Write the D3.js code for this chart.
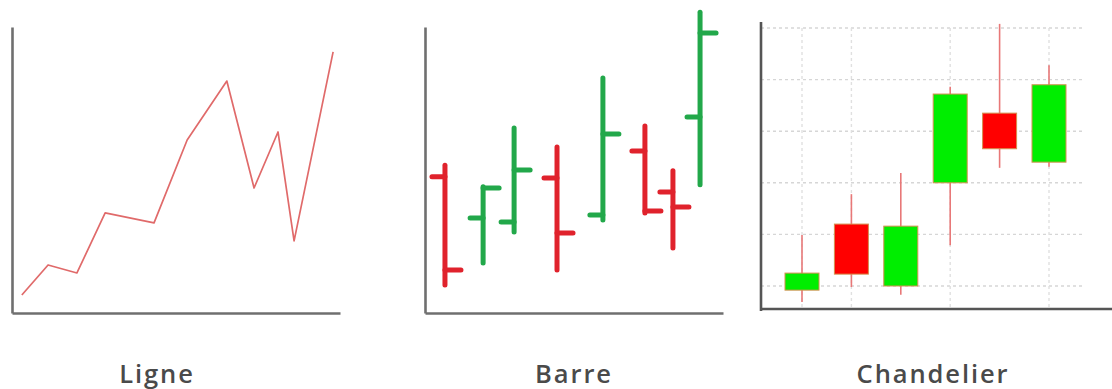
<!DOCTYPE html>
<html>
<head>
<meta charset="utf-8">
<script src="https://cdn.jsdelivr.net/npm/d3@7"></script>
<style>
  html, body { margin: 0; padding: 0; background: #ffffff; }
  svg { display: block; }
</style>
</head>
<body>
<svg id="chart" width="1112" height="389"></svg>
<script>
// ---------- DATA ----------
const panelTitles = ["Ligne", "Barre", "Chandelier"];

// Line chart: time position (0-100) and value (0-100)
const lineTime  = [3.0, 11.0, 19.8, 28.4, 43.3, 53.4, 65.5, 73.8, 81.1, 86.0, 97.9];
const lineValue = [6.3, 16.8, 14.0, 35.0, 31.5, 60.5, 81.1, 43.7, 63.3, 25.2, 91.3];

// OHLC bar chart
const barTime  = [6.7, 19.5, 29.9, 44.3, 59.7, 73.8, 83.2, 92.3];
const barOpen  = [47.6, 33.2, 31.8, 47.2, 34.3, 56.6, 42.3, 68.5];
const barHigh  = [51.7, 44.1, 64.7, 58.0, 82.2, 65.4, 49.7, 105.2];
const barLow   = [9.8, 17.5, 28.3, 15.0, 32.5, 35.0, 22.7, 44.8];
const barClose = [15.0, 43.7, 50.0, 28.0, 62.6, 35.7, 37.1, 97.9];

// Candlestick chart
const candleIndex = [0, 1, 2, 3, 4, 5];
const candleOpen  = [9.2, 22.0, 10.0, 30.0, 43.5, 34.0];
const candleHigh  = [19.9, 27.8, 31.9, 48.6, 60.8, 52.8];
const candleLow   = [6.9, 9.8, 8.3, 17.9, 32.9, 33.1];
const candleClose = [12.5, 12.3, 21.6, 47.2, 36.6, 49.0];
const candleGridY = [10, 20, 30, 40, 50, 60];
const candleGridX = [0, 1, 3, 5];

// ---------- DRAW ----------
const svg = d3.select("#chart");

// ===== Panel 1 : Ligne =====
{
  const x = d3.scaleLinear().domain([0, 100]).range([12, 340]);
  const y = d3.scaleLinear().domain([0, 100]).range([313, 27]);
  const g = svg.append("g");
  const pts = lineTime.map((t, i) => [t, lineValue[i]]);
  g.append("path")
    .datum(pts)
    .attr("fill", "none")
    .attr("stroke", "#e06a6a")
    .attr("stroke-width", 1.7)
    .attr("stroke-linejoin", "round")
    .attr("d", d3.line().x(d => x(d[0])).y(d => y(d[1])));

  const xAxis = d3.axisBottom(x).tickValues([]).tickSizeOuter(0);
  const yAxis = d3.axisLeft(y).tickValues([]).tickSizeOuter(0);
  const ax = g.append("g").attr("transform", `translate(0,${y(0)})`).call(xAxis);
  const ay = g.append("g").attr("transform", `translate(${x(0)},0)`).call(yAxis);
  [ax, ay].forEach(a => a.select(".domain").attr("stroke", "#6f6f6f").attr("stroke-width", 2.6));
}

// ===== Panel 2 : Barre =====
{
  const x = d3.scaleLinear().domain([0, 100]).range([425, 723]);
  const y = d3.scaleLinear().domain([0, 100]).range([313, 27]);
  const g = svg.append("g");
  const bars = barTime.map((t, i) => ({ t, o: barOpen[i], h: barHigh[i], l: barLow[i], c: barClose[i] }));
  const tick = 13;
  const col = d => d.c >= d.o ? "#22a84a" : "#e0222c";
  const bg = g.selectAll("g.bar").data(bars).join("g").attr("class", "bar")
    .attr("stroke", col).attr("stroke-width", 5).attr("stroke-linecap", "round");
  bg.append("line")
    .attr("x1", d => x(d.t)).attr("x2", d => x(d.t))
    .attr("y1", d => y(d.h)).attr("y2", d => y(d.l));
  bg.append("line")
    .attr("x1", d => x(d.t) - tick).attr("x2", d => x(d.t))
    .attr("y1", d => y(d.o)).attr("y2", d => y(d.o));
  bg.append("line")
    .attr("x1", d => x(d.t)).attr("x2", d => x(d.t) + tick + 3)
    .attr("y1", d => y(d.c)).attr("y2", d => y(d.c));

  const xAxis = d3.axisBottom(x).tickValues([]).tickSizeOuter(0);
  const yAxis = d3.axisLeft(y).tickValues([]).tickSizeOuter(0);
  const ax = g.append("g").attr("transform", `translate(0,${y(0)})`).call(xAxis);
  const ay = g.append("g").attr("transform", `translate(${x(0)},0)`).call(yAxis);
  [ax, ay].forEach(a => a.select(".domain").attr("stroke", "#6f6f6f").attr("stroke-width", 2.6));
}

// ===== Panel 3 : Chandelier =====
{
  const x = d3.scaleLinear().domain([0, 5]).range([802, 1049]);
  const y = d3.scaleLinear().domain([10, 60]).range([286, 28]);
  const x0 = 761, x1 = 1083, yBase = 309, yTop = 22;
  const g = svg.append("g");

  // grid
  g.append("g").selectAll("line").data(candleGridY).join("line")
    .attr("x1", x0).attr("x2", x1)
    .attr("y1", d => y(d)).attr("y2", d => y(d))
    .attr("stroke", "#d6d6d6").attr("stroke-width", 1.4).attr("stroke-dasharray", "3,3");
  g.append("g").selectAll("line").data(candleGridX).join("line")
    .attr("x1", d => x(d)).attr("x2", d => x(d))
    .attr("y1", y(60)).attr("y2", yBase)
    .attr("stroke", "#e0e0e0").attr("stroke-width", 1.4).attr("stroke-dasharray", "3,3");

  const candles = candleIndex.map((k, i) => ({ k, o: candleOpen[i], h: candleHigh[i], l: candleLow[i], c: candleClose[i] }));
  const bw = 34;
  const cg = g.selectAll("g.candle").data(candles).join("g").attr("class", "candle");
  cg.append("line")
    .attr("x1", d => x(d.k)).attr("x2", d => x(d.k))
    .attr("y1", d => y(d.h)).attr("y2", d => y(d.l))
    .attr("stroke", "#e87878").attr("stroke-width", 1.6);
  cg.append("rect")
    .attr("x", d => x(d.k) - bw / 2)
    .attr("width", bw)
    .attr("y", d => y(Math.max(d.o, d.c)))
    .attr("height", d => Math.abs(y(d.o) - y(d.c)))
    .attr("fill", d => d.c >= d.o ? "#00ee00" : "#ff0000")
    .attr("stroke", "#d49050").attr("stroke-width", 1);

  // axes
  g.append("line").attr("x1", x0).attr("x2", 1112).attr("y1", yBase).attr("y2", yBase)
    .attr("stroke", "#555").attr("stroke-width", 2.6);
  g.append("line").attr("x1", x0).attr("x2", x0).attr("y1", yTop).attr("y2", yBase + 2)
    .attr("stroke", "#555").attr("stroke-width", 2.6);
}

// ===== Titles =====
const titleX = [157, 574, 933];
svg.selectAll("text.title").data(panelTitles).join("text")
  .attr("class", "title")
  .attr("x", (d, i) => titleX[i])
  .attr("y", 383)
  .attr("text-anchor", "middle")
  .attr("font-family", "'Open Sans', 'Noto Sans', sans-serif")
  .attr("font-weight", 600)
  .attr("font-size", 25.5)
  .attr("letter-spacing", 1.9)
  .attr("fill", "#4a4a4a")
  .text(d => d);
</script>
</body>
</html>
